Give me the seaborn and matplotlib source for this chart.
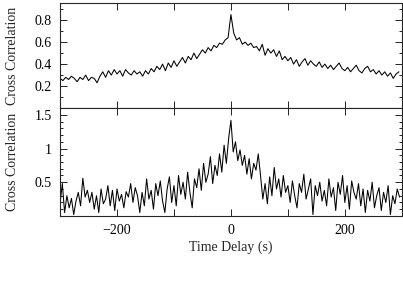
import numpy as np
import pandas as pd
import matplotlib
matplotlib.use("Agg")
import matplotlib.pyplot as plt
import matplotlib.ticker as mticker
import seaborn as sns

# ----------------------------
# Data
# ----------------------------
# top panel: 5 s bins from -300 to 295
top_lag = np.arange(-300, 300, 5)
top_cc = [
    0.27, 0.25, 0.28, 0.26, 0.29, 0.27, 0.24, 0.28, 0.26, 0.30,
    0.25, 0.28, 0.27, 0.23, 0.29, 0.33, 0.28, 0.34, 0.30, 0.35,
    0.31, 0.34, 0.29, 0.35, 0.32, 0.30, 0.34, 0.31, 0.33, 0.29,
    0.34, 0.31, 0.36, 0.33, 0.38, 0.35, 0.40, 0.34, 0.41, 0.37,
    0.43, 0.38, 0.42, 0.46, 0.41, 0.47, 0.44, 0.50, 0.45, 0.49,
    0.53, 0.50, 0.55, 0.52, 0.57, 0.55, 0.59, 0.58, 0.62, 0.64,
    0.85, 0.68, 0.62, 0.64, 0.58, 0.60, 0.57, 0.59, 0.55, 0.56,
    0.52, 0.58, 0.48, 0.54, 0.50, 0.53, 0.47, 0.52, 0.44, 0.47,
    0.43, 0.46, 0.40, 0.44, 0.38, 0.42, 0.45, 0.39, 0.43, 0.40,
    0.38, 0.42, 0.37, 0.40, 0.36, 0.39, 0.35, 0.38, 0.41, 0.36,
    0.34, 0.37, 0.33, 0.36, 0.39, 0.34, 0.32, 0.36, 0.38, 0.33,
    0.35, 0.31, 0.34, 0.30, 0.33, 0.29, 0.32, 0.27, 0.31, 0.33,
]

# bottom panel: 4 s bins from -300 to 296
bot_lag = np.arange(-300, 300, 4)
bot_cc = [
    0.18, 0.48, 0.05, 0.30, 0.12, 0.26, 0.02, 0.22, 0.35, 0.15,
    0.56, 0.28, 0.38, 0.20, 0.35, 0.10, 0.30, 0.05, 0.40, 0.18,
    0.25, 0.45, 0.15, 0.38, 0.08, 0.40, 0.22, 0.32, 0.12, 0.36,
    0.28, 0.48, 0.20, 0.42, 0.30, 0.05, 0.35, 0.15, 0.55, 0.25,
    0.38, 0.10, 0.48, 0.30, 0.52, 0.22, 0.05, 0.40, 0.58, 0.20,
    0.45, 0.15, 0.60, 0.32, 0.50, 0.25, 0.65, 0.35, 0.12, 0.55,
    0.42, 0.70, 0.38, 0.78, 0.50, 0.62, 0.88, 0.48, 0.75, 0.60,
    0.92, 0.65, 1.05, 0.78, 1.15, 1.42, 0.95, 1.10, 0.82, 0.98,
    0.75, 0.90, 0.62, 0.85, 0.55, 0.78, 0.68, 0.92, 0.60, 0.25,
    0.48, 0.18, 0.58, 0.30, 0.72, 0.40, 0.55, 0.28, 0.60, 0.35,
    0.45, 0.20, 0.52, 0.30, 0.12, 0.48, 0.35, 0.62, 0.25, 0.40,
    0.55, 0.02, 0.45, 0.30, 0.50, 0.22, 0.38, 0.15, 0.55, 0.28,
    0.42, 0.08, 0.50, 0.32, 0.60, 0.20, 0.45, 0.10, 0.52, 0.35,
    0.25, 0.48, 0.15, 0.40, 0.05, 0.38, 0.22, 0.50, 0.12, 0.30,
    0.42, 0.08, 0.35, 0.20, 0.45, 0.02, 0.30, 0.18, 0.40, 0.28,
]

top_df = pd.DataFrame({'lag': top_lag, 'cc': top_cc})
bot_df = pd.DataFrame({'lag': bot_lag, 'cc': bot_cc})

# ----------------------------
# Style
# ----------------------------
sns.set_theme(style="ticks")
plt.rcParams['font.family'] = ['Liberation Serif', 'DejaVu Serif']
plt.rcParams['font.size'] = 10

fig = plt.figure(figsize=(4.03, 3.02), dpi=100)
ax1 = fig.add_axes([0.149, 0.642, 0.848, 0.348])
ax2 = fig.add_axes([0.149, 0.285, 0.848, 0.357])

for ax, df in [(ax1, top_df), (ax2, bot_df)]:
    sns.lineplot(data=df, x='lag', y='cc', ax=ax, color='black',
                 linewidth=0.75, estimator=None)
    ax.set_xlim(-300, 300)
    ax.xaxis.set_major_locator(mticker.MultipleLocator(100))
    ax.tick_params(which='both', direction='in', top=True, right=True,
                   labelsize=10, width=0.6, colors='black', pad=6)
    ax.tick_params(which='major', length=5)
    ax.tick_params(which='minor', length=2.5)
    ax.yaxis.set_minor_locator(mticker.MultipleLocator(0.1))
    for s in ax.spines.values():
        s.set_linewidth(0.8)
    ax.set_ylabel('Cross Correlation', fontsize=10, labelpad=11)

ax1.set_ylim(0, 0.955)
ax1.set_yticks([0.2, 0.4, 0.6, 0.8])
ax1.set_xticklabels([])
ax1.set_xlabel('')

ax2.set_ylim(0, 1.6)
ax2.set_yticks([0.5, 1.0, 1.5])
ax2.yaxis.set_major_formatter(mticker.FormatStrFormatter('%g'))
ax2.xaxis.set_major_formatter(mticker.FuncFormatter(
    lambda v, p: ('\u2212%d' % -v if v < 0 else '%d' % v) if v % 200 == 0 else ''))
ax2.set_xlabel('Time Delay (s)', fontsize=10, labelpad=2)

fig.savefig('out.png', dpi=100)
